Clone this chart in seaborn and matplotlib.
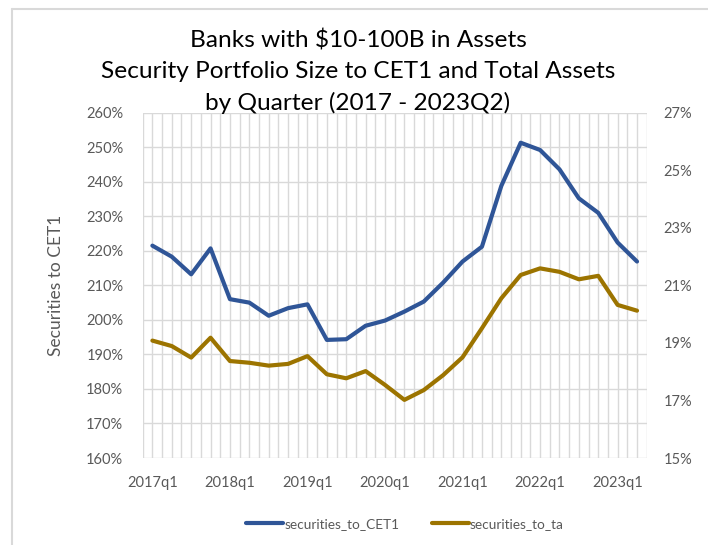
import numpy as np
import pandas as pd
import matplotlib
matplotlib.use("Agg")
import matplotlib.pyplot as plt
import seaborn as sns
from matplotlib.ticker import FixedLocator, FuncFormatter

# Quarterly ratios, 2017q1 .. 2023q2
quarters = [f"{y}q{q}" for y in range(2017, 2024) for q in range(1, 5)][:26]
securities_to_CET1 = [221.5, 218.3, 213.2, 220.7, 206.0, 205.0, 201.2, 203.4,
                      204.5, 194.2, 194.4, 198.3, 199.8, 202.4, 205.3, 210.8,
                      216.9, 221.2, 238.8, 251.3, 249.2, 243.6, 235.2, 231.0,
                      222.4, 216.9]
securities_to_ta = [19.08, 18.89, 18.49, 19.18, 18.37, 18.31, 18.21, 18.27,
                    18.54, 17.91, 17.77, 18.02, 17.54, 17.02, 17.36, 17.88,
                    18.50, 19.51, 20.55, 21.36, 21.59, 21.47, 21.21, 21.33,
                    20.32, 20.12]
x_labels = ["2017q1", "2018q1", "2019q1", "2020q1", "2021q1", "2022q1", "2023q1"]
left_ticks = list(range(160, 261, 10))
right_ticks = list(range(15, 28, 2))
title_lines = ["Banks with $10-100B in Assets",
               "Security Portfolio Size to CET1 and Total Assets",
               "by Quarter (2017 - 2023Q2)"]

df = pd.DataFrame({
    "idx": np.arange(len(quarters)),
    "quarter": quarters,
    "securities_to_CET1": securities_to_CET1,
    "securities_to_ta": securities_to_ta,
})

sns.set_theme(style="white")
plt.rcParams["font.family"] = ["Lato", "DejaVu Sans"]

BLUE = "#2F5597"
GOLD = "#9C7400"
GRID = "#D9D9D9"
TICK = "#595959"

W, H = 708, 545
fig = plt.figure(figsize=(W / 100, H / 100), dpi=100)
fig.patch.set_facecolor("white")
ax = fig.add_axes([142.7 / W, 1 - 458 / H, 504 / W, 345.3 / H])
ax2 = ax.twinx()

sns.lineplot(data=df, x="idx", y="securities_to_CET1", ax=ax, color=BLUE,
             linewidth=3.0, label="securities_to_CET1", legend=False)
sns.lineplot(data=df, x="idx", y="securities_to_ta", ax=ax2, color=GOLD,
             linewidth=3.0, label="securities_to_ta", legend=False)

n = len(quarters)
ax.set_xlim(-0.5, n - 0.5)
ax.set_ylim(160, 260)
ax2.set_ylim(15, 27)

# gridlines: every half category vertically, every 10% horizontally
for xv in np.arange(-0.5, n, 0.5):
    ax.axvline(xv, color=GRID, linewidth=1.0, zorder=0)
for yv in left_ticks:
    ax.axhline(yv, color=GRID, linewidth=1.0, zorder=0)

label_pos = [quarters.index(l) for l in x_labels]
ax.xaxis.set_major_locator(FixedLocator(label_pos))
ax.set_xticklabels(x_labels)
ax.yaxis.set_major_locator(FixedLocator(left_ticks))
ax.yaxis.set_major_formatter(FuncFormatter(lambda v, p: f"{v:.0f}%"))
ax2.yaxis.set_major_locator(FixedLocator(right_ticks))
ax2.yaxis.set_major_formatter(FuncFormatter(lambda v, p: f"{v:.0f}%"))

for a in (ax, ax2):
    for s in a.spines.values():
        s.set_visible(False)
    a.tick_params(length=0, labelsize=10.5, labelcolor=TICK)
ax.tick_params(axis="y", pad=14)
ax.tick_params(axis="x", pad=13)
ax2.tick_params(axis="y", pad=12)
ax2.grid(False)
ax.grid(False)
ax2.set_zorder(ax.get_zorder() + 1)
ax2.patch.set_visible(False)

ax.set_xlabel("")
ax.set_ylabel("Securities to CET1", fontsize=12.5, color=TICK)
ax.yaxis.set_label_coords((64 - 142.7) / 504, 0.5)
ax2.set_ylabel("Securities to Total Assets", fontsize=12.5, color=TICK, rotation=90)
ax2.yaxis.set_label_coords((714 - 142.7) / 504, 0.5)

for i, (line, yc) in enumerate(zip(title_lines, [41, 72, 103])):
    fig.text(358 / W, 1 - yc / H, line, ha="center", va="center",
             fontsize=17.6, color="black")

h1, l1 = ax.get_legend_handles_labels()
h2, l2 = ax2.get_legend_handles_labels()
fig.legend(h1 + h2, l1 + l2, loc="center", bbox_to_anchor=(405 / W, 1 - 524 / H),
           ncol=2, frameon=False, fontsize=9.8, handlelength=2.7,
           handletextpad=0.1, columnspacing=2.4, labelcolor=TICK)

# chart-area border (left and top edges)
fig.add_artist(plt.Line2D([11.7 / W, 11.7 / W], [0, 1 - 8.7 / H],
                          transform=fig.transFigure, color=GRID, linewidth=1.5))
fig.add_artist(plt.Line2D([11.7 / W, 1], [1 - 8.7 / H, 1 - 8.7 / H],
                          transform=fig.transFigure, color=GRID, linewidth=1.5))

fig.savefig("out.png", dpi=100)
